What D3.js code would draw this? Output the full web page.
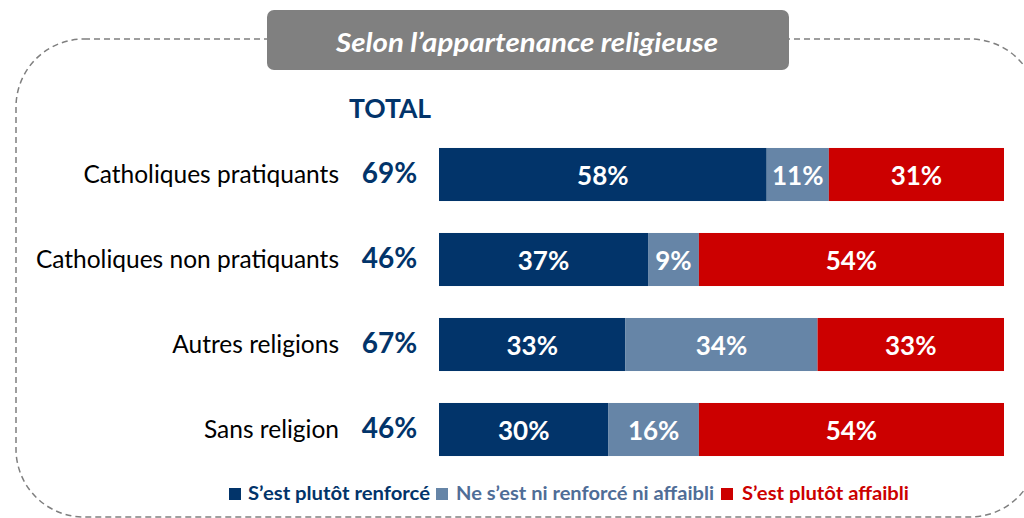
<!DOCTYPE html>
<html><head><meta charset="utf-8">
<script src="https://cdn.jsdelivr.net/npm/d3@7"></script>
<style>body{margin:0;background:#fff;} svg{display:block;font-family:Lato, "Open Sans", sans-serif;}</style>
</head><body>
<svg id="c" width="1024" height="518"></svg>
<script>
const categories = ["Catholiques pratiquants","Catholiques non pratiquants","Autres religions","Sans religion"];
const totals = ["69%","46%","67%","46%"];
const renforce = [58,37,33,30];
const niNi = [11,9,34,16];
const affaibli = [31,54,33,54];
const seriesNames = ["S\u2019est plutôt renforcé","Ne s\u2019est ni renforcé ni affaibli","S\u2019est plutôt affaibli"];
const title = "Selon l\u2019appartenance religieuse";
const totalLabel = "TOTAL";

const colors = ["#02346a","#6685a7","#cc0000"];
const legendText = ["#02346a","#4f6d97","#cc0000"];

const svg = d3.select("#c");

// dashed frame
svg.append("rect").attr("x",16).attr("y",39).attr("width",1022).attr("height",478)
  .attr("rx",68).attr("ry",68).attr("fill","none").attr("stroke","#7f7f7f")
  .attr("stroke-width",1.5).attr("stroke-dasharray","6,4");

// title box
svg.append("rect").attr("x",267).attr("y",10).attr("width",522).attr("height",60)
  .attr("rx",7).attr("fill","#808080");
svg.append("text").attr("x",527).attr("y",52).attr("text-anchor","middle")
  .attr("fill","#fff").attr("font-size",27).attr("font-weight","bold").attr("font-style","italic")
  .attr("textLength",382).attr("lengthAdjust","spacingAndGlyphs")
  .text(title);

const x = d3.scaleLinear().domain([0,100]).range([439,1004]);
const y = d3.scaleBand().domain(categories).range([132,472]).paddingInner(0.376).paddingOuter(0.188);

svg.append("text").attr("x",390).attr("y",118).attr("text-anchor","middle")
  .attr("fill","#02346a").attr("font-size",26.5).attr("font-weight","bold").text(totalLabel);

const rows = categories.map((c,i)=>({c, vals:[renforce[i],niNi[i],affaibli[i]], total:totals[i]}));

const g = svg.selectAll("g.row").data(rows).join("g").attr("class","row");
g.append("text").attr("x",339).attr("y",d=>y(d.c)+y.bandwidth()/2+8.5).attr("text-anchor","end")
  .attr("font-size",24.5).attr("fill","#000").text(d=>d.c);
g.append("text").attr("x",389.5).attr("y",d=>y(d.c)+y.bandwidth()/2+8.5).attr("text-anchor","middle")
  .attr("font-size",28).attr("font-weight","bold").attr("fill","#02346a").text(d=>d.total);

g.each(function(d){
  let cum=0;
  const segs = d.vals.map((v,k)=>{const s={k,v,x0:cum,x1:cum+v}; cum+=v; return s;});
  const sel = d3.select(this);
  sel.selectAll("rect.seg").data(segs).join("rect").attr("class","seg")
    .attr("x",s=>x(s.x0)).attr("width",s=>x(s.x1)-x(s.x0))
    .attr("y",y(d.c)).attr("height",y.bandwidth()).attr("fill",s=>colors[s.k]);
  sel.selectAll("text.lab").data(segs).join("text").attr("class","lab")
    .attr("x",s=>(x(s.x0)+x(s.x1))/2).attr("y",y(d.c)+y.bandwidth()/2+10)
    .attr("text-anchor","middle").attr("fill","#fff").attr("font-size",26).attr("font-weight","bold")
    .text(s=>s.v+"%");
});

// legend
const legSq = [229,436,721];
const legTx = [248,456,742];
const legW = [182,258,167];
const lg = svg.selectAll("g.leg").data(seriesNames).join("g").attr("class","leg");
lg.append("rect").attr("x",(d,i)=>legSq[i]).attr("y",488).attr("width",12).attr("height",12)
  .attr("fill",(d,i)=>colors[i]);
lg.append("text").attr("x",(d,i)=>legTx[i]).attr("y",500).attr("font-size",19.5).attr("font-weight","bold")
  .attr("textLength",(d,i)=>legW[i]).attr("lengthAdjust","spacingAndGlyphs")
  .attr("fill",(d,i)=>legendText[i]).text(d=>d);
</script>
</body></html>
